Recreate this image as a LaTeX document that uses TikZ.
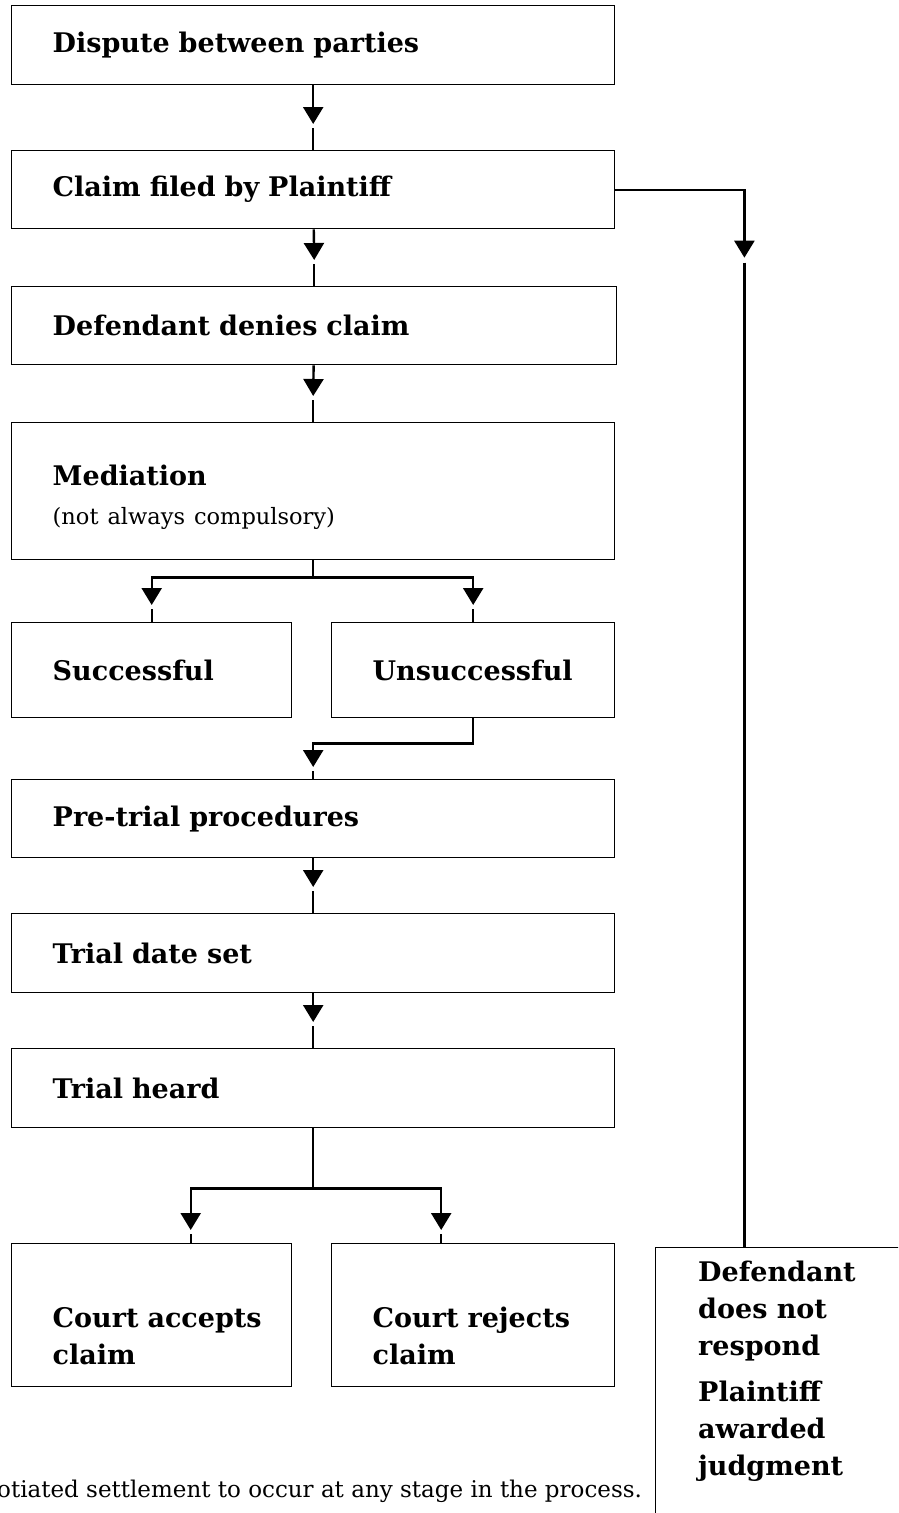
\documentclass[tikz,border=0pt]{standalone}
\usepackage{fontspec}
\setmainfont{DejaVu Serif}
\usetikzlibrary{arrows.meta,positioning,calc}

\begin{document}
\begin{tikzpicture}[
  x=1pt, y=-1pt,
  font=\fontsize{23}{30}\selectfont,
  >={Triangle[width=20pt,length=17pt]},
  stepbox/.style={draw, line width=1.4pt, anchor=north west, align=left,
    inner xsep=41pt, inner ysep=0pt, fill=white,
    font=\fontsize{27}{37}\selectfont\bfseries},
  link/.style={line width=2.4pt}
]
\path[use as bounding box] (0,0) rectangle (898,1513);
\clip (0,0) rectangle (898,1513);
\fill[white] (0,0) rectangle (898,1513);

% Main column
\node[stepbox, minimum width=603pt, minimum height=79pt, text width=521pt]
  (dispute) at (11,5) {Dispute between parties};
\node[stepbox, minimum width=603pt, minimum height=78pt, text width=521pt]
  (claim) at (11,150) {Claim filed by Plaintiff};
\node[stepbox, minimum width=605pt, minimum height=78pt, text width=523pt]
  (denies) at (11,286) {Defendant denies claim};
\node[stepbox, minimum width=603pt, minimum height=137pt, text width=521pt]
  (mediation) at (11,422)
  {\mbox{}\\[-5pt]Mediation\\[2pt]{\mdseries\fontsize{22.5}{30}\selectfont(not always compulsory)}};

\node[stepbox, minimum width=280pt, minimum height=95pt, text width=198pt]
  (success) at (11,622) {Successful};
\node[stepbox, minimum width=283pt, minimum height=95pt, text width=201pt]
  (fail) at (331,622) {Unsuccessful};

\node[stepbox, minimum width=603pt, minimum height=78pt, text width=521pt]
  (pretrial) at (11,779) {Pre-trial procedures};
\node[stepbox, minimum width=603pt, minimum height=79pt, text width=521pt]
  (dateset) at (11,913) {Trial date set};
\node[stepbox, minimum width=603pt, minimum height=79pt, text width=521pt]
  (heard) at (11,1048) {Trial heard};

% text sits a little low in these two
\node[stepbox, minimum width=280pt, minimum height=143pt, text width=198pt]
  (accepts) at (11,1243) {\mbox{}\\[25pt]\mbox{Court accepts}\\claim};
\node[stepbox, minimum width=283pt, minimum height=143pt, text width=201pt]
  (rejects) at (331,1243) {\mbox{}\\[25pt]\mbox{Court rejects}\\claim};

% Right-hand box, runs off the page
\node[draw, line width=1.4pt, anchor=north west,
  minimum width=400pt, minimum height=400pt] (noreply) at (655,1247) {};
\node[anchor=north west, align=left, inner sep=0pt,
  font=\fontsize{27}{37}\selectfont\bfseries]
  (noreplytext) at ([xshift=43pt,yshift=-14pt]noreply.north west)
  {Defendant\\does not\\respond\\[9pt]Plaintiff\\awarded\\judgment};

% Footnote, cut at the left
\node[anchor=base west, inner sep=0pt] (note) at (-3,1497)
  {otiated settlement to occur at any stage in the process.};

% Straight links
\foreach \a/\b in {dispute/claim, claim/denies, denies/mediation,
                   pretrial/dateset, dateset/heard} {
  \draw[link,->] (\a) -- ([yshift=26pt]\b.north);
  \draw[link] ([yshift=22pt]\b.north) -- (\b.north);
}

% Mediation outcome
\coordinate (msplit) at ([yshift=-17pt]mediation.south);
\draw[link] (mediation.south) -- (msplit);
\draw[link,->] (msplit) -| ([yshift=17pt]success.north);
\draw[link] ([yshift=13pt]success.north) -- (success.north);
\draw[link,->] (msplit) -| ([yshift=17pt]fail.north);
\draw[link] ([yshift=13pt]fail.north) -- (fail.north);

\draw[link,->] (fail.south) -- ++(0,25) -| ([yshift=12pt]pretrial.north);
\draw[link] ([yshift=8pt]pretrial.north) -- (pretrial.north);

% Trial outcome
\coordinate (hsplit) at ([yshift=-60pt]heard.south);
\draw[link] (heard.south) -- (hsplit);
\draw[link,->] (hsplit) -| ([xshift=39pt,yshift=13pt]accepts.north);
\draw[link] ([xshift=39pt,yshift=9pt]accepts.north) -- ([xshift=39pt]accepts.north);
\draw[link,->] (hsplit) -| ([xshift=-32pt,yshift=13pt]rejects.north);
\draw[link] ([xshift=-32pt,yshift=9pt]rejects.north) -- ([xshift=-32pt]rejects.north);

% No defence
\coordinate (rcorner) at ([xshift=129pt]claim.east);
\coordinate (rtip) at ([xshift=129pt,yshift=-68pt]claim.east);
\draw[link,->] (claim.east) -- (rcorner) -- (rtip);
\draw[link] ([yshift=-5pt]rtip) -- (rcorner |- noreply.north);
\end{tikzpicture}
\end{document}
